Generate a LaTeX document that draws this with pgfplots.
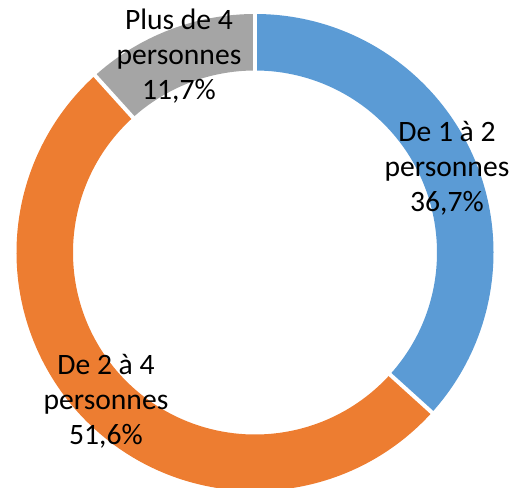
\documentclass[border=0pt]{standalone}
\usepackage{pgfplots}
\pgfplotsset{compat=1.18}
\usepackage{pgfplotstable}
\usepackage{fontspec}
\setmainfont{Carlito}
\definecolor{cblue}{HTML}{5B9BD5}
\definecolor{corange}{HTML}{ED7D31}
\definecolor{cgray}{HTML}{A5A5A5}
\pgfplotstableread{
value
36.7
51.6
11.7
}\donut
\pgfplotstablegetelem{0}{value}\of\donut \let\va\pgfplotsretval
\pgfplotstablegetelem{1}{value}\of\donut \let\vb\pgfplotsretval
\pgfplotstablegetelem{2}{value}\of\donut \let\vc\pgfplotsretval
\pgfmathsetmacro\aA{90}
\pgfmathsetmacro\aB{\aA-3.6*\va}
\pgfmathsetmacro\aC{\aB-3.6*\vb}
\pgfmathsetmacro\aD{\aC-3.6*\vc}
\def\R{178.875pt}
\def\r{136.5pt}
\def\W{42.375pt}
\begin{document}
\begin{tikzpicture}
\useasboundingbox (-191.25pt,-176.625pt) rectangle (193.5pt,189.375pt);
\begin{axis}[anchor=origin, at={(0,0)}, x=0.75pt, y=0.75pt,
  xmin=-260, xmax=260, ymin=-260, ymax=260, hide axis, clip=false]
\addplot[draw=none] coordinates {(0,0)};
\fill[cblue] (axis cs:0,0) ++(\aA:\R) arc[start angle=\aA, end angle=\aB, radius=\R] -- ++(\aB:-\W) arc[start angle=\aB, end angle=\aA, radius=\r] -- cycle;
\fill[corange] (axis cs:0,0) ++(\aB:\R) arc[start angle=\aB, end angle=\aC, radius=\R] -- ++(\aC:-\W) arc[start angle=\aC, end angle=\aB, radius=\r] -- cycle;
\fill[cgray] (axis cs:0,0) ++(\aC:\R) arc[start angle=\aC, end angle=\aD, radius=\R] -- ++(\aD:-\W) arc[start angle=\aD, end angle=\aC, radius=\r] -- cycle;
\draw[white, line width=3pt] (axis cs:0,0) ++(\aA:130pt) -- ++(\aA:56pt);
\draw[white, line width=3pt] (axis cs:0,0) ++(\aB:130pt) -- ++(\aB:56pt);
\draw[white, line width=3pt] (axis cs:0,0) ++(\aC:130pt) -- ++(\aC:56pt);
\node[align=center, font=\fontsize{22.2}{26.25}\selectfont] at (axis cs:192,84.5) {De 1 à 2\\personnes\\36,7\%};
\node[align=center, font=\fontsize{22.2}{26.25}\selectfont] at (axis cs:-149,-149) {De 2 à 4\\personnes\\51,6\%};
\node[align=center, font=\fontsize{22.2}{26.25}\selectfont] at (axis cs:-76,196) {Plus de 4\\personnes\\11,7\%};
\end{axis}
\end{tikzpicture}
\end{document}
